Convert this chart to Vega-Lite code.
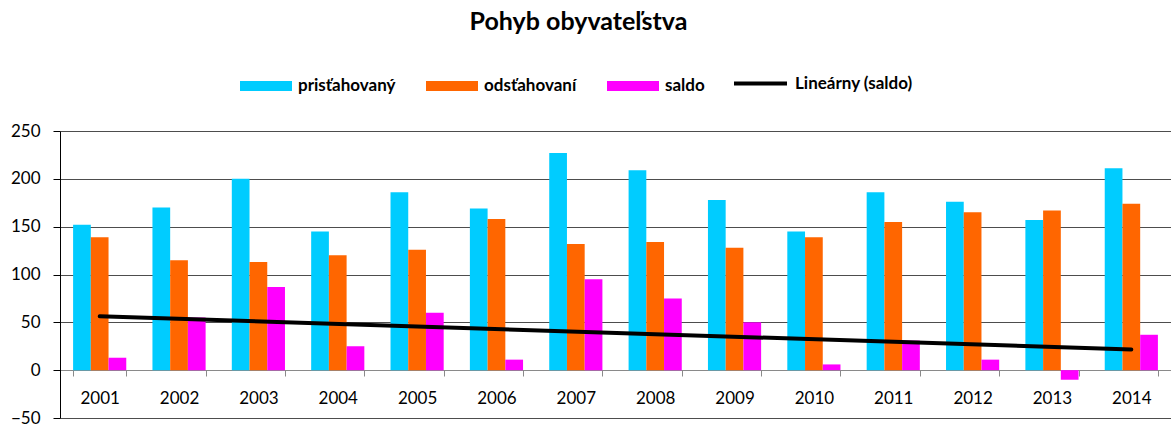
{
  "$schema": "https://vega.github.io/schema/vega-lite/v6.json",
  "width": 1111,
  "height": 287,
  "autosize": {"type": "none"},
  "padding": {"left": 60, "top": 131, "right": 0, "bottom": 9},
  "background": "white",
  "title": {
    "text": "Pohyb obyvateľstva",
    "font": "Lato",
    "fontSize": 25,
    "fontWeight": "bold",
    "color": "#000000",
    "anchor": "middle",
    "frame": "group",
    "dx": -37,
    "offset": 20
  },
  "data": {
    "values": [
      {"year": 2001, "series": "prisťahovaný", "value": 152},
      {"year": 2001, "series": "odsťahovaní", "value": 139},
      {"year": 2001, "series": "saldo", "value": 13},
      {"year": 2002, "series": "prisťahovaný", "value": 170},
      {"year": 2002, "series": "odsťahovaní", "value": 115},
      {"year": 2002, "series": "saldo", "value": 55},
      {"year": 2003, "series": "prisťahovaný", "value": 200},
      {"year": 2003, "series": "odsťahovaní", "value": 113},
      {"year": 2003, "series": "saldo", "value": 87},
      {"year": 2004, "series": "prisťahovaný", "value": 145},
      {"year": 2004, "series": "odsťahovaní", "value": 120},
      {"year": 2004, "series": "saldo", "value": 25},
      {"year": 2005, "series": "prisťahovaný", "value": 186},
      {"year": 2005, "series": "odsťahovaní", "value": 126},
      {"year": 2005, "series": "saldo", "value": 60},
      {"year": 2006, "series": "prisťahovaný", "value": 169},
      {"year": 2006, "series": "odsťahovaní", "value": 158},
      {"year": 2006, "series": "saldo", "value": 11},
      {"year": 2007, "series": "prisťahovaný", "value": 227},
      {"year": 2007, "series": "odsťahovaní", "value": 132},
      {"year": 2007, "series": "saldo", "value": 95},
      {"year": 2008, "series": "prisťahovaný", "value": 209},
      {"year": 2008, "series": "odsťahovaní", "value": 134},
      {"year": 2008, "series": "saldo", "value": 75},
      {"year": 2009, "series": "prisťahovaný", "value": 178},
      {"year": 2009, "series": "odsťahovaní", "value": 128},
      {"year": 2009, "series": "saldo", "value": 50},
      {"year": 2010, "series": "prisťahovaný", "value": 145},
      {"year": 2010, "series": "odsťahovaní", "value": 139},
      {"year": 2010, "series": "saldo", "value": 6},
      {"year": 2011, "series": "prisťahovaný", "value": 186},
      {"year": 2011, "series": "odsťahovaní", "value": 155},
      {"year": 2011, "series": "saldo", "value": 31},
      {"year": 2012, "series": "prisťahovaný", "value": 176},
      {"year": 2012, "series": "odsťahovaní", "value": 165},
      {"year": 2012, "series": "saldo", "value": 11},
      {"year": 2013, "series": "prisťahovaný", "value": 157},
      {"year": 2013, "series": "odsťahovaní", "value": 167},
      {"year": 2013, "series": "saldo", "value": -10},
      {"year": 2014, "series": "prisťahovaný", "value": 211},
      {"year": 2014, "series": "odsťahovaní", "value": 174},
      {"year": 2014, "series": "saldo", "value": 37}
    ]
  },
  "layer": [
    {
      "mark": {"type": "bar"},
      "encoding": {
        "x": {
          "field": "year",
          "type": "ordinal",
          "scale": {"paddingInner": 0.33, "paddingOuter": 0.165},
          "axis": {
            "title": null,
            "labelAngle": 0,
            "offset": -48,
            "tickBand": "extent",
            "domainColor": "#8a8a8a",
            "tickColor": "#8a8a8a",
            "tickSize": 6,
            "labelPadding": 14,
            "labelFont": "Lato",
            "labelFontSize": 17,
            "labelColor": "#000000",
            "grid": false
          }
        },
        "xOffset": {
          "field": "series",
          "type": "nominal",
          "sort": ["prisťahovaný", "odsťahovaní", "saldo"],
          "scale": {"paddingInner": 0, "paddingOuter": 0}
        },
        "y": {
          "field": "value",
          "type": "quantitative",
          "scale": {"domain": [-50, 250], "nice": false},
          "axis": {
            "title": null,
            "values": [-50, 0, 50, 100, 150, 200, 250],
            "grid": true,
            "gridColor": "#4d4d4d",
            "gridWidth": 1,
            "domainColor": "#000000",
            "tickColor": "#000000",
            "tickSize": 7,
            "labelPadding": 13,
            "labelFont": "Lato",
            "labelFontSize": 17,
            "labelColor": "#000000"
          }
        },
        "fill": {
          "field": "series",
          "type": "nominal",
          "scale": {
            "domain": ["prisťahovaný", "odsťahovaní", "saldo"],
            "range": ["#00CCFF", "#FF6600", "#FF00FF"]
          },
          "legend": {
            "orient": "none",
            "legendX": 180,
            "legendY": -71,
            "direction": "horizontal",
            "title": null,
            "symbolType": "M-1,-0.19H1V0.19H-1Z",
            "symbolSize": 2704,
            "symbolStrokeWidth": 0,
            "labelFont": "Lato",
            "labelFontWeight": "bold",
            "labelFontSize": 17,
            "labelColor": "#000000",
            "labelOffset": 6,
            "columnPadding": 30
          }
        }
      }
    },
    {
      "transform": [
        {"filter": "datum.series == 'saldo'"},
        {"regression": "value", "on": "year"}
      ],
      "mark": {"type": "line", "strokeWidth": 4, "strokeCap": "round"},
      "encoding": {
        "x": {"field": "year", "type": "ordinal"},
        "y": {"field": "value", "type": "quantitative"},
        "stroke": {
          "datum": "Lineárny (saldo)",
          "type": "nominal",
          "scale": {"range": ["#000000"]},
          "legend": {
            "orient": "none",
            "legendX": 672,
            "legendY": -76,
            "title": null,
            "symbolType": "stroke",
            "symbolSize": 2809,
            "symbolStrokeWidth": 4,
            "labelFont": "Lato",
            "labelFontWeight": "bold",
            "labelFontSize": 17,
            "labelColor": "#000000",
            "labelOffset": 6
          }
        }
      }
    }
  ],
  "config": {"view": {"stroke": null}, "font": "Lato"}
}
